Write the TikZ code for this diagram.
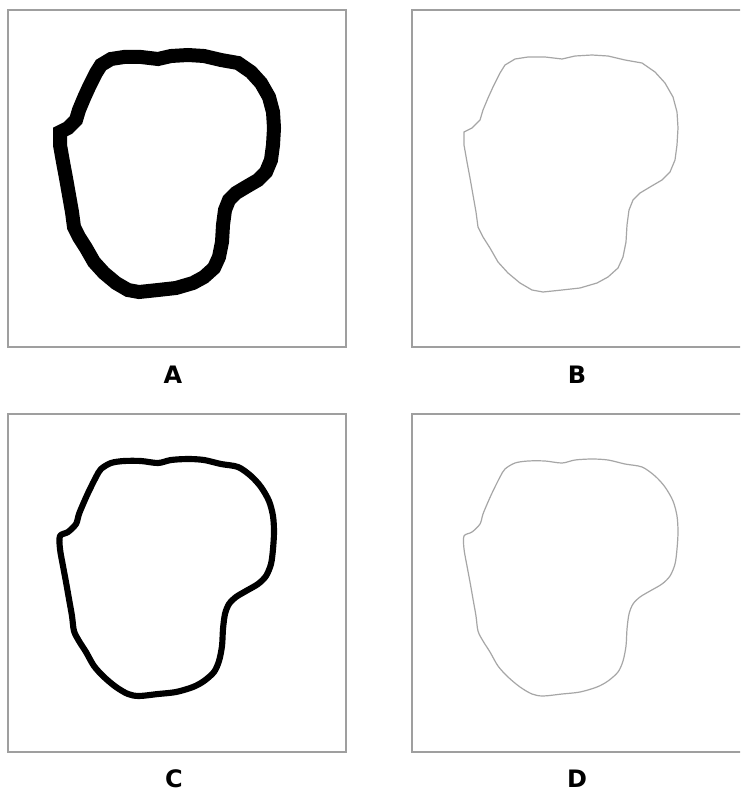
\documentclass[tikz,border=0pt]{standalone}
\usepackage{fontspec}
\setmainfont{DejaVu Sans}
\newcommand{\blobpath}[1]{plot[#1] coordinates {(52,122) (60,118) (68,110) (71,100) (76,88) (81,77) (88,63) (93,55) (103,49) (116,47) (133,47) (150,49) (163,46) (180,45) (196,46) (213,50) (230,53) (243,62) (253,73) (261,87) (265,102) (266,118) (265,135) (263,150) (258,162) (250,170) (238,177) (228,183) (221,190) (217,200) (215,215) (214,232) (211,247) (206,258) (196,267) (185,273) (168,278) (150,280) (131,282) (120,280) (108,273) (96,263) (86,252) (78,238) (71,227) (66,217) (64,202) (61,185) (58,168) (55,152) (52,135)}}
\tikzset{
  frame/.style={draw=gray!75, line width=1pt},
  label/.style={font=\bfseries\fontsize{18}{20}\selectfont, inner sep=0pt},
}
\begin{document}
\begin{tikzpicture}[x=0.75pt, y=-0.75pt]
\clip (0,0) rectangle (740,792);
\fill[white] (0,0) rectangle (740,792);
\draw[frame] (8,10) rectangle (346,347);
\draw[frame] (412,10) rectangle (750,347);
\draw[frame] (8,414) rectangle (346,752);
\draw[frame] (412,414) rectangle (750,752);
\begin{scope}[shift={(8,10)}]
\draw[line width=10.5pt, line join=miter] \blobpath{sharp cycle};
\end{scope}
\begin{scope}[shift={(412,10)}]
\draw[gray!70, line width=0.9pt] \blobpath{sharp cycle};
\end{scope}
\begin{scope}[shift={(8,414)}]
\draw[line width=4.6pt, line join=round] \blobpath{smooth cycle};
\end{scope}
\begin{scope}[shift={(412,414)}]
\draw[gray!70, line width=0.9pt] \blobpath{smooth cycle};
\end{scope}
\node[label] (labA) at (173,375) {A};
\node[label] (labB) at (577,375) {B};
\node[label] (labC) at (174,779) {C};
\node[label] (labD) at (577,779) {D};
\end{tikzpicture}
\end{document}
